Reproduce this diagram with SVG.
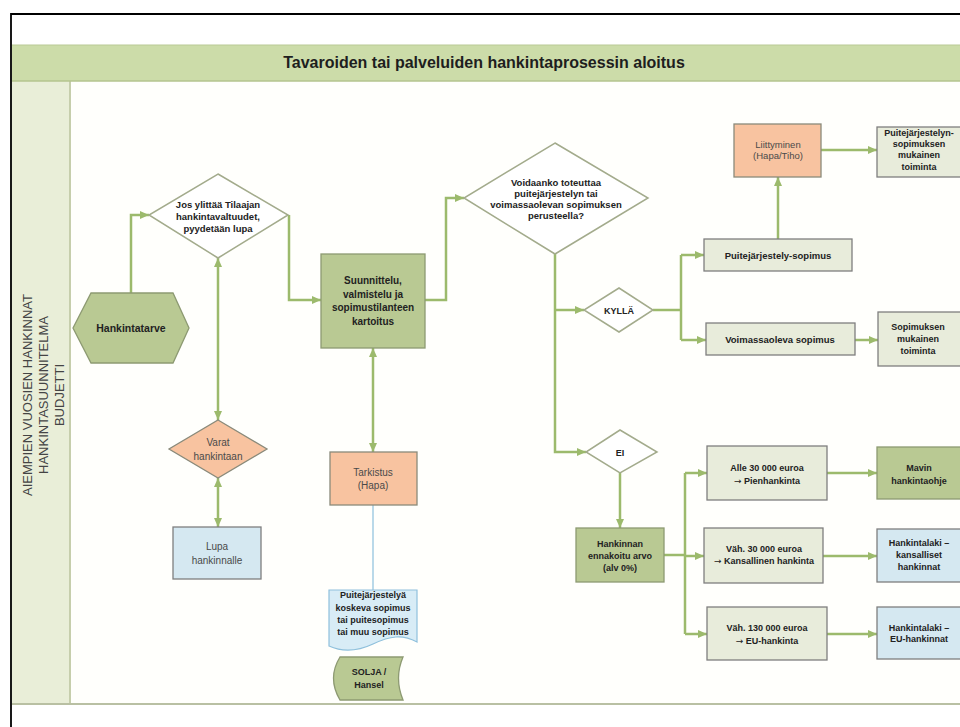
<svg xmlns="http://www.w3.org/2000/svg" width="960" height="727" viewBox="0 0 960 727">
<defs>
<marker id="arr" viewBox="0 0 9 8" refX="9" refY="4" markerWidth="9" markerHeight="8" markerUnits="userSpaceOnUse" orient="auto-start-reverse">
<path d="M0,0 L9,4 L0,8 z" fill="#9cba6c"/>
</marker>
<style>
text{font-family:"Liberation Sans",Arial,sans-serif;fill:#222;text-anchor:middle}
.b{font-weight:bold;font-size:9.5px}
.n{font-size:10px;fill:#4a4a4a}
.ar{font-family:"DejaVu Sans",sans-serif;font-weight:normal}
.con{fill:none;stroke:#9cba6c;stroke-width:2.5}
.thin{fill:none;stroke:#8cc0dc;stroke-width:1.2}
.gnode{fill:#b9c993;stroke:#8d9a72;stroke-width:1.3}
.dia{fill:#fff;stroke:#a3ab8c;stroke-width:1.5}
.box{fill:#e8ecdb;stroke:#7f7f7f;stroke-width:1.3}
.or{fill:#f8c3a0;stroke:#8a8a7a;stroke-width:1.3}
.bl{fill:#d5e8f1;stroke:#7f7f7f;stroke-width:1.3}
.doc{fill:#d8ecf6;stroke:#8fc0dc;stroke-width:1.2}
</style>
</defs>
<rect width="960" height="727" fill="#fff"/>
<!-- frame and lanes -->
<rect x="70" y="81" width="890" height="623" fill="#fffffc"/>
<rect x="12" y="81" width="58" height="623" fill="#e9eed8"/>
<line x1="70" y1="81" x2="70" y2="704" stroke="#c6ceac" stroke-width="2"/>
<rect x="12" y="45" width="948" height="36" fill="#ccdca9"/>
<line x1="12" y1="45" x2="960" y2="45" stroke="#b9c995" stroke-width="1"/>
<line x1="12" y1="81" x2="960" y2="81" stroke="#b5c58f" stroke-width="1.5"/>
<line x1="12" y1="704" x2="960" y2="704" stroke="#b9c0a3" stroke-width="2"/>
<path d="M11,727 V14 H960" fill="none" stroke="#000" stroke-width="1.8"/>
<text x="484" y="68" style="font-size:16px;font-weight:bold;fill:#1e1e1e">Tavaroiden tai palveluiden hankintaprosessin aloitus</text>
<g id="lane" style="font-size:13px">
<text transform="translate(32,395) rotate(-90)" style="fill:#444">AIEMPIEN VUOSIEN HANKINNAT</text>
<text transform="translate(48,395) rotate(-90)" style="fill:#444">HANKINTASUUNNITELMA</text>
<text transform="translate(64,395) rotate(-90)" style="fill:#444">BUDJETTI</text>
</g>
<!-- connectors -->
<g id="connectors">
<path class="con" d="M131,293 V215 H149" marker-end="url(#arr)"/>
<path class="con" d="M289,215 V300 H321" marker-end="url(#arr)"/>
<path class="con" d="M425,300 H446 V198 H464" marker-end="url(#arr)"/>
<path class="con" d="M555,254 V452 H586" marker-end="url(#arr)"/>
<path class="con" d="M555,310 H584" marker-end="url(#arr)"/>
<path class="con" d="M653,310 H681"/>
<path class="con" d="M681,255 V340"/>
<path class="con" d="M681,255 H704" marker-end="url(#arr)"/>
<path class="con" d="M681,340 H706" marker-end="url(#arr)"/>
<path class="con" d="M778,239 V177" marker-end="url(#arr)"/>
<path class="con" d="M821,150 H877" marker-end="url(#arr)"/>
<path class="con" d="M855,340 H878" marker-end="url(#arr)"/>
<path class="con" d="M620,473 V528" marker-end="url(#arr)"/>
<path class="con" d="M664,555 H685"/>
<path class="con" d="M685,473 V634"/>
<path class="con" d="M685,473 H707" marker-end="url(#arr)"/>
<path class="con" d="M685,556 H704" marker-end="url(#arr)"/>
<path class="con" d="M685,634 H707" marker-end="url(#arr)"/>
<path class="con" d="M827,473 H877" marker-end="url(#arr)"/>
<path class="con" d="M823,556 H877" marker-end="url(#arr)"/>
<path class="con" d="M827,634 H877" marker-end="url(#arr)"/>
<path class="con" d="M218,258 V420" marker-start="url(#arr)" marker-end="url(#arr)"/>
<path class="con" d="M218,478 V527" marker-start="url(#arr)" marker-end="url(#arr)"/>
<path class="con" d="M373,348 V452" marker-start="url(#arr)" marker-end="url(#arr)"/>
<path class="thin" d="M373,505 V590"/>
</g>
<!-- nodes -->
<g id="hankintatarve">
<polygon class="gnode" points="73,328 91,293 173,293 189,328 173,363 91,363"/>
<text class="b" x="131" y="332" style="font-size:10.5px">Hankintatarve</text>
</g>
<g id="lupa-kysymys">
<polygon class="dia" points="218,174 288,215 218,258 149,215"/>
<text class="b" x="218" y="207.5">Jos ylittää Tilaajan</text>
<text class="b" x="218" y="219.5">hankintavaltuudet,</text>
<text class="b" x="218" y="231.5">pyydetään lupa</text>
</g>
<g id="suunnittelu">
<rect class="gnode" x="321" y="254" width="104" height="94"/>
<text class="b" x="373" y="284" style="font-size:10px">Suunnittelu,</text>
<text class="b" x="373" y="297.5" style="font-size:10px">valmistelu ja</text>
<text class="b" x="373" y="311" style="font-size:10px">sopimustilanteen</text>
<text class="b" x="373" y="324.5" style="font-size:10px">kartoitus</text>
</g>
<g id="voidaanko">
<polygon class="dia" points="555,143 648,198 555,254 464,198"/>
<text class="b" x="556" y="185.5">Voidaanko toteuttaa</text>
<text class="b" x="556" y="196.5">puitejärjestelyn tai</text>
<text class="b" x="556" y="207.5">voimassaolevan sopimuksen</text>
<text class="b" x="556" y="218.5">perusteella?</text>
</g>
<g id="kylla">
<polygon class="dia" points="619,288 653,310 619,332 584,310"/>
<text class="b" x="619" y="313.5" style="font-size:9px">KYLLÄ</text>
</g>
<g id="ei">
<polygon class="dia" points="620,430 657,452 620,473 586,452"/>
<text class="b" x="620" y="455.5" style="font-size:9px">EI</text>
</g>
<g id="varat">
<polygon class="or" points="218,420 267,449 218,478 169,449"/>
<text class="n" x="218" y="445.5">Varat</text>
<text class="n" x="218" y="459.5">hankintaan</text>
</g>
<g id="lupa">
<rect class="bl" x="173" y="527" width="88" height="52"/>
<text class="n" x="217" y="549.5">Lupa</text>
<text class="n" x="217" y="563.5">hankinnalle</text>
</g>
<g id="tarkistus">
<rect class="or" x="330" y="452" width="87" height="53"/>
<text class="n" x="373" y="475.5">Tarkistus</text>
<text class="n" x="373" y="488.5">(Hapa)</text>
</g>
<g id="sopimusdokumentti">
<path class="doc" d="M329,590 H417 V642 C402,634 390,636 373,644 C356,652 342,652 329,646 Z"/>
<text class="b" x="373" y="598" style="font-size:9px">Puitejärjestelyä</text>
<text class="b" x="373" y="611" style="font-size:9px">koskeva sopimus</text>
<text class="b" x="373" y="623" style="font-size:9px">tai puitesopimus</text>
<text class="b" x="373" y="635" style="font-size:9px">tai muu sopimus</text>
</g>
<g id="solja">
<path class="gnode" d="M340,657 H403 Q394,678 403,700 H340 Q327,678 340,657 Z"/>
<text class="b" x="369" y="675" style="font-size:9px">SOLJA /</text>
<text class="b" x="369" y="688" style="font-size:9px">Hansel</text>
</g>
<g id="liittyminen">
<rect class="or" x="734" y="124" width="87" height="53"/>
<text class="n" x="778" y="148" style="font-size:9.5px">Liittyminen</text>
<text class="n" x="778" y="159" style="font-size:9.5px">(Hapa/Tiho)</text>
</g>
<g id="puitejarjestelyn-toiminta">
<rect class="box" x="877" y="127" width="86" height="50"/>
<text class="b" x="919" y="135.5" style="font-size:9px">Puitejärjestelyn-</text>
<text class="b" x="919" y="146.5" style="font-size:9px">sopimuksen</text>
<text class="b" x="919" y="158" style="font-size:9px">mukainen</text>
<text class="b" x="919" y="169.5" style="font-size:9px">toiminta</text>
</g>
<g id="puitejarjestely-sopimus">
<rect class="box" x="704" y="239" width="148" height="32"/>
<text class="b" x="778" y="259">Puitejärjestely-sopimus</text>
</g>
<g id="voimassaoleva">
<rect class="box" x="706" y="323" width="149" height="32"/>
<text class="b" x="780" y="343">Voimassaoleva sopimus</text>
</g>
<g id="sopimuksen-toiminta">
<rect class="box" x="878" y="312" width="85" height="54"/>
<text class="b" x="918" y="330" style="font-size:9px">Sopimuksen</text>
<text class="b" x="918" y="342" style="font-size:9px">mukainen</text>
<text class="b" x="918" y="354" style="font-size:9px">toiminta</text>
</g>
<g id="ennakoitu-arvo">
<rect class="gnode" x="576" y="528" width="88" height="54"/>
<text class="b" x="620" y="546.5" style="font-size:9px">Hankinnan</text>
<text class="b" x="620" y="559" style="font-size:9px">ennakoitu arvo</text>
<text class="b" x="620" y="570.5" style="font-size:9px">(alv 0%)</text>
</g>
<g id="alle30">
<rect class="box" x="707" y="446" width="120" height="54"/>
<text class="b" x="767" y="470.5" style="font-size:9px">Alle 30 000 euroa</text>
<text class="b" x="767" y="483.5" style="font-size:9px"><tspan class="ar">→</tspan> Pienhankinta</text>
</g>
<g id="vah30">
<rect class="box" x="704" y="528" width="119" height="55"/>
<text class="b" x="764" y="551.5" style="font-size:9px">Väh. 30 000 euroa</text>
<text class="b" x="764" y="563.5" style="font-size:9px"><tspan class="ar">→</tspan> Kansallinen hankinta</text>
</g>
<g id="vah130">
<rect class="box" x="707" y="607" width="120" height="53"/>
<text class="b" x="767" y="630.5" style="font-size:9px">Väh. 130 000 euroa</text>
<text class="b" x="767" y="643.5" style="font-size:9px"><tspan class="ar">→</tspan> EU-hankinta</text>
</g>
<g id="mavin">
<rect class="gnode" x="877" y="447" width="86" height="52"/>
<text class="b" x="919" y="470.5" style="font-size:9px">Mavin</text>
<text class="b" x="919" y="484" style="font-size:9px">hankintaohje</text>
</g>
<g id="kansalliset">
<rect class="bl" x="877" y="529" width="86" height="53"/>
<text class="b" x="919" y="545.5" style="font-size:9px">Hankintalaki –</text>
<text class="b" x="919" y="557.5" style="font-size:9px">kansalliset</text>
<text class="b" x="919" y="569.5" style="font-size:9px">hankinnat</text>
</g>
<g id="eu">
<rect class="bl" x="877" y="607" width="86" height="52"/>
<text class="b" x="919" y="630.5" style="font-size:9px">Hankintalaki –</text>
<text class="b" x="919" y="641.5" style="font-size:9px">EU-hankinnat</text>
</g>
</svg>
